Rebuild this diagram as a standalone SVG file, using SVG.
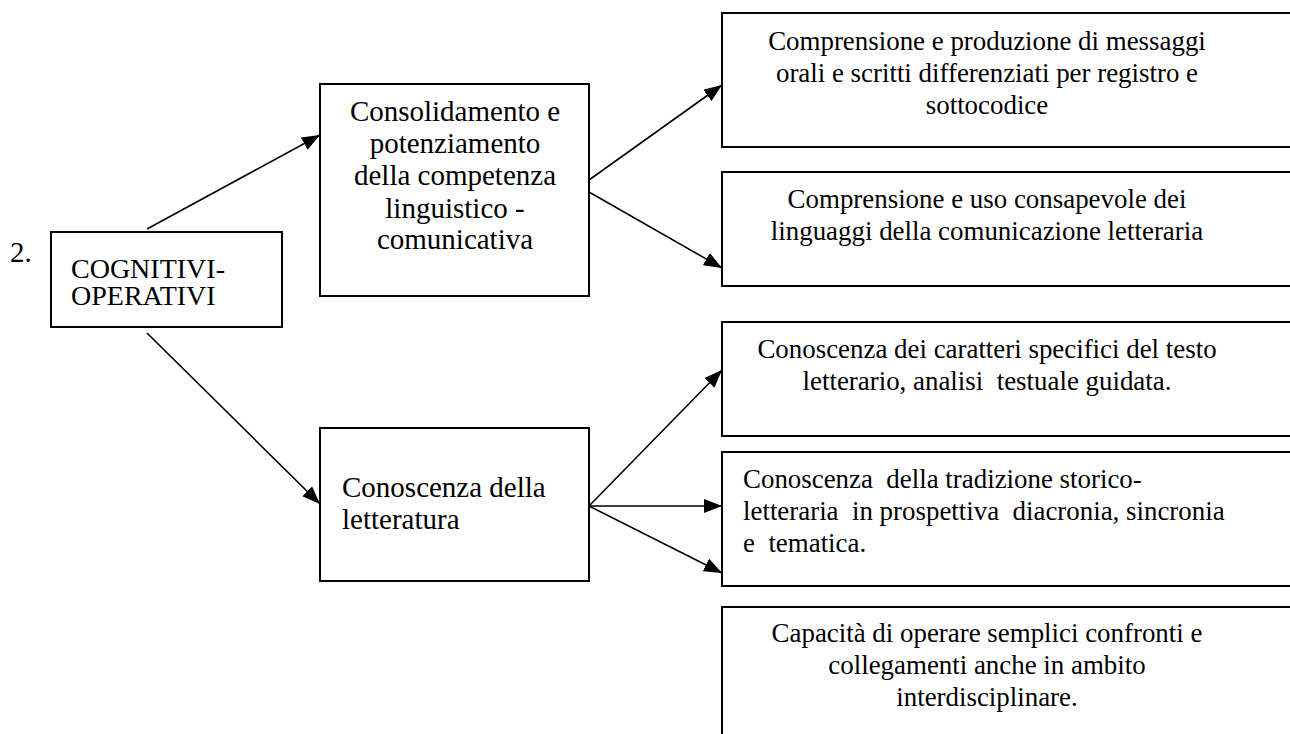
<svg xmlns="http://www.w3.org/2000/svg" width="1290" height="734" viewBox="0 0 1290 734">
<style>
.box{fill:#fff;stroke:#000;stroke-width:2}
.t{font-family:'Liberation Serif','Times New Roman',serif;font-size:29px;fill:#000}
.r{font-size:26.9px}
.c{text-anchor:middle}
.con{stroke:#000;stroke-width:1.6;fill:none;marker-end:url(#ah)}
</style>
<defs>
<marker id="ah" markerUnits="userSpaceOnUse" markerWidth="19" markerHeight="14" refX="18" refY="7" orient="auto">
<path d="M0,0 L18,7 L0,14 z" fill="#000"/>
</marker>
</defs>
<rect width="1290" height="734" fill="#fff"/>
<text class="t" x="10" y="262">2.</text>
<g id="connectors">
<line class="con" x1="147" y1="229" x2="320" y2="135"/>
<line class="con" x1="589" y1="180" x2="722" y2="85"/>
<line class="con" x1="589" y1="192" x2="722" y2="268"/>
<line class="con" x1="147" y1="333" x2="320" y2="504"/>
<line class="con" x1="589" y1="506" x2="722" y2="370"/>
<line class="con" x1="589" y1="506" x2="722" y2="506"/>
<line class="con" x1="589" y1="506" x2="722" y2="573"/>
</g>
<g id="n-cognitivi">
<rect class="box" x="51" y="232" width="231" height="95"/>
<text class="t" x="71" y="278" style="font-size:28px">COGNITIVI-</text>
<text class="t" x="71" y="305" style="font-size:28px">OPERATIVI</text>
</g>
<g id="n-consolidamento">
<rect class="box" x="320" y="84" width="269" height="212"/>
<text class="t c" x="455" y="121">Consolidamento e</text>
<text class="t c" x="455" y="153">potenziamento</text>
<text class="t c" x="455" y="185">della competenza</text>
<text class="t c" x="455" y="218">linguistico -</text>
<text class="t c" x="455" y="249">comunicativa</text>
</g>
<g id="n-conoscenza">
<rect class="box" x="320" y="428" width="269" height="153"/>
<text class="t" x="342" y="497">Conoscenza della</text>
<text class="t" x="342" y="529">letteratura</text>
</g>
<g id="n-comprensione1">
<rect class="box" x="722" y="13" width="600" height="134"/>
<text class="t r c" x="987" y="50">Comprensione e produzione di messaggi</text>
<text class="t r c" x="987" y="82">orali e scritti differenziati per registro e</text>
<text class="t r c" x="987" y="114">sottocodice</text>
</g>
<g id="n-comprensione2">
<rect class="box" x="722" y="172" width="600" height="114"/>
<text class="t r c" x="987" y="208">Comprensione e uso consapevole dei</text>
<text class="t r c" x="987" y="240">linguaggi della comunicazione letteraria</text>
</g>
<g id="n-caratteri">
<rect class="box" x="722" y="322" width="600" height="114"/>
<text class="t r c" x="987" y="358" xml:space="preserve">Conoscenza dei caratteri specifici del testo</text>
<text class="t r c" x="987" y="390" xml:space="preserve">letterario, analisi  testuale guidata.</text>
</g>
<g id="n-tradizione">
<rect class="box" x="722" y="452" width="600" height="134"/>
<text class="t r" x="743" y="488" xml:space="preserve">Conoscenza  della tradizione storico-</text>
<text class="t r" x="743" y="520" xml:space="preserve">letteraria  in prospettiva  diacronia, sincronia</text>
<text class="t r" x="743" y="552" xml:space="preserve">e  tematica.</text>
</g>
<g id="n-capacita">
<rect class="box" x="722" y="607" width="600" height="160"/>
<text class="t r c" x="987" y="642">Capacità di operare semplici confronti e</text>
<text class="t r c" x="987" y="674">collegamenti anche in ambito</text>
<text class="t r c" x="987" y="706">interdisciplinare.</text>
</g>
</svg>
